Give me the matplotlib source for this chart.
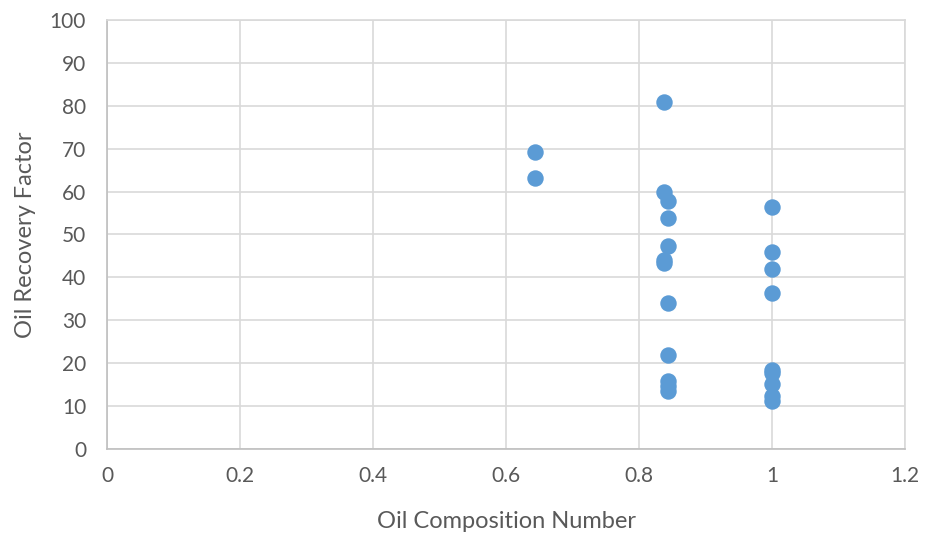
import matplotlib.pyplot as plt

# Oil composition number vs oil recovery factor
comp_a = [0.644, 0.644]
rec_a = [69.3, 63.2]

comp_b = [0.837, 0.837, 0.844, 0.844, 0.844, 0.837, 0.837, 0.844, 0.844, 0.844, 0.844, 0.844]
rec_b = [80.9, 59.8, 57.7, 53.8, 47.4, 44.1, 43.3, 34.0, 21.9, 15.9, 14.7, 13.5]

comp_c = [1.0, 1.0, 1.0, 1.0, 1.0, 1.0, 1.0, 1.0, 1.0]
rec_c = [56.4, 46.0, 41.9, 36.3, 18.4, 17.6, 15.2, 12.3, 11.3]

x_vals = comp_a + comp_b + comp_c
y_vals = rec_a + rec_b + rec_c

plt.rcParams['font.family'] = ['Lato', 'DejaVu Sans']

fig = plt.figure(figsize=(9.35, 5.33), dpi=100)
ax = fig.add_axes([0.1144, 0.1576, 0.8536, 0.805])

ax.scatter(x_vals, y_vals, s=140, color='#5B9BD5', zorder=3, linewidths=0)

ax.set_xlim(0, 1.2)
ax.set_ylim(0, 100)
ax.set_xticks([0, 0.2, 0.4, 0.6, 0.8, 1.0, 1.2])
ax.set_xticklabels(['0', '0.2', '0.4', '0.6', '0.8', '1', '1.2'])
ax.set_yticks(range(0, 101, 10))

ax.grid(True, color='#D9D9D9', linewidth=1.2, zorder=0)
for sp in ax.spines.values():
    sp.set_color('#D9D9D9')
    sp.set_linewidth(1.2)
ax.spines['left'].set_color('#BFBFBF')
ax.spines['bottom'].set_color('#BFBFBF')

ax.tick_params(axis='both', length=0, labelsize=15, colors='#595959')
ax.tick_params(axis='x', pad=12)
ax.tick_params(axis='y', pad=15)

ax.set_xlabel('Oil Composition Number', fontsize=17, color='#595959', labelpad=18)
ax.set_ylabel('Oil Recovery Factor', fontsize=17, color='#595959', labelpad=10)

fig.savefig('out.png', dpi=100)
